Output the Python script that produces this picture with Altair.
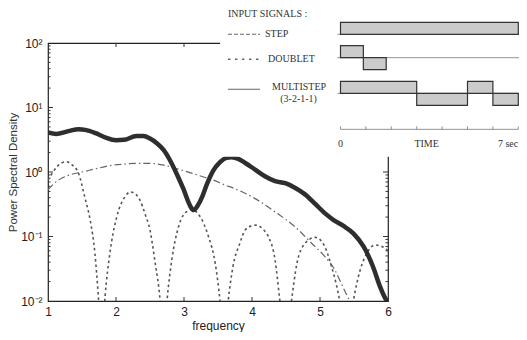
import altair as alt
import pandas as pd

# ---------------- spectra ----------------
# MULTISTEP (3-2-1-1) - thick solid curve
ms_f = [1.00, 1.12, 1.30, 1.45, 1.55, 1.70, 1.85, 2.00, 2.12, 2.30,
        2.40, 2.50, 2.60, 2.70, 2.79, 2.89, 2.99, 3.09, 3.14, 3.20,
        3.27, 3.33, 3.43, 3.53, 3.62, 3.70, 3.80, 3.90, 4.04, 4.19,
        4.34, 4.49, 4.63, 4.78, 4.93, 5.07, 5.20, 5.34, 5.49, 5.64,
        5.78, 5.88, 5.96, 6.00]
ms_p = [4.1, 3.9, 4.3, 4.6, 4.5, 4.0, 3.4, 3.1, 3.15, 3.6,
        3.6, 3.3, 2.8, 2.2, 1.55, 0.95, 0.55, 0.30, 0.257, 0.30,
        0.42, 0.62, 1.05, 1.42, 1.65, 1.70, 1.6, 1.38, 1.1, 0.86,
        0.72, 0.67, 0.57, 0.45, 0.32, 0.23, 0.18, 0.147, 0.112, 0.07,
        0.034, 0.017, 0.011, 0.0095]

# STEP - dash-dot curve
st_f = [1.00, 1.10, 1.20, 1.35, 1.50, 1.70, 1.90, 2.10, 2.30, 2.50,
        2.70, 2.90, 3.10, 3.30, 3.43, 3.60, 3.75, 4.04, 4.34, 4.63,
        4.88, 5.07, 5.22, 5.30, 5.40, 5.50]
st_p = [0.53, 0.68, 0.80, 0.92, 1.0, 1.12, 1.25, 1.32, 1.36, 1.36,
        1.28, 1.12, 0.97, 0.83, 0.75, 0.63, 0.55, 0.39, 0.24, 0.142,
        0.078, 0.049, 0.030, 0.020, 0.012, 0.0075]

# DOUBLET - dotted curve (lobes)
db_f = [1.00, 1.06, 1.13, 1.20, 1.27, 1.35, 1.45, 1.54, 1.62, 1.69, 1.74, 1.79,
        1.84, 1.91, 2.01, 2.13, 2.21, 2.28, 2.35, 2.43, 2.50, 2.57, 2.65, 2.70,
        2.75, 2.82, 2.92, 3.04, 3.12, 3.24, 3.36, 3.46, 3.53, 3.59,
        3.65, 3.72, 3.82, 3.90, 4.00, 4.07, 4.16, 4.24, 4.34, 4.41, 4.49,
        4.58, 4.66, 4.78, 4.93, 5.07, 5.17, 5.24, 5.29, 5.39,
        5.49, 5.59, 5.69, 5.81, 5.91, 6.00]
db_p = [0.75, 0.95, 1.2, 1.38, 1.44, 1.30, 0.95, 0.41, 0.18, 0.055, 0.012, 0.002,
        0.012, 0.055, 0.2, 0.41, 0.49, 0.46, 0.37, 0.22, 0.126, 0.043, 0.01, 0.002,
        0.01, 0.043, 0.142, 0.243, 0.26, 0.2, 0.1, 0.038, 0.01, 0.002,
        0.01, 0.034, 0.078, 0.126, 0.147, 0.15, 0.13, 0.1, 0.043, 0.01, 0.002,
        0.01, 0.038, 0.078, 0.097, 0.07, 0.034, 0.018, 0.01, 0.002,
        0.01, 0.03, 0.055, 0.074, 0.07, 0.06]

x_ticks = [1, 2, 3, 4, 5, 6]
y_major = [0.01, 0.1, 1, 10, 100]
y_minor = [m * 10.0 ** e for e in (-2, -1, 0, 1) for m in range(2, 10)]
y_labels = ["10⁻²", "10⁻¹", "10⁰", "10¹", "10²"]

# ---------------- inset input signals ----------------
sig_name = ["STEP", "DOUBLET", "DOUBLET", "MULTISTEP", "MULTISTEP", "MULTISTEP", "MULTISTEP"]
sig_t0 = [0, 0, 0.9, 0, 3, 5, 6]
sig_t1 = [7, 0.9, 1.8, 3, 5, 6, 7]
sig_level = [1, 1, -1, 1, -1, 1, -1]
time_ticks = [0, 1, 2, 3, 4, 5, 6, 7]

# layout of the inset (its own time / row coordinates)
ROW = {"STEP": 0.0, "DOUBLET": -1.95, "MULTISTEP": -4.92, "AXIS": -7.92}
LEG = {"t0": -4.43, "t1": -3.17, "STEP": 0.0, "DOUBLET": -2.08, "MULTISTEP": -4.58}
BG = {"t0": -4.74, "t1": 7.5, "y0": 3.0, "y1": -10.2}

W, H = 340, 258
SANS = "Liberation Sans"
SERIF = "Liberation Serif"

xs = alt.Scale(domain=[1, 6], nice=False, zero=False)
ys = alt.Scale(type="log", domain=[0.01, 100], nice=False)

x_axis = alt.Axis(values=x_ticks, format="d", title="frequency", ticks=False, tickSize=0,
                  domain=False, grid=False, labelFlush=False, labelFont=SANS, labelFontSize=12,
                  labelColor="#222", labelPadding=5, titleFont=SANS, titleFontSize=12,
                  titleFontWeight="normal", titleColor="#222", titleX=W / 2, titleY=28,
                  titleBaseline="alphabetic", titleAlign="center")
lab_expr = "[" + ",".join("'%s'" % s for s in y_labels) + "][round(log(datum.value)/LN10)+2]"
y_axis = alt.Axis(values=y_major, labelExpr=lab_expr, title="Power Spectral Density",
                  ticks=False, tickSize=0, domain=False, grid=False, labelFlush=False,
                  labelOverlap=False, labelFont=SANS, labelFontSize=12, labelColor="#222",
                  labelPadding=6, titleFont=SANS, titleFontSize=11.5, titleFontWeight="normal",
                  titleColor="#333", titleX=-35, titleY=H / 2, titleAngle=270,
                  titleBaseline="middle", titleAlign="center")

df_ms = pd.DataFrame({"f": ms_f, "psd": ms_p})
df_st = pd.DataFrame({"f": st_f, "psd": st_p})
df_db = pd.DataFrame({"f": db_f, "psd": db_p})

X = alt.X("f:Q", scale=xs, axis=x_axis)
Y = alt.Y("psd:Q", scale=ys, axis=y_axis)

step_line = alt.Chart(df_st).mark_line(clip=True, interpolate="monotone", color="#666",
                                       strokeWidth=1.2, strokeDash=[7, 3, 1.5, 3]).encode(x=X, y=Y)
doub_line = alt.Chart(df_db).mark_line(clip=True, interpolate="monotone", color="#555",
                                       strokeWidth=1.6, strokeDash=[2.5, 3]).encode(x=X, y=Y)
multi_line = alt.Chart(df_ms).mark_line(clip=True, interpolate="monotone", color="#2e2e2e",
                                        strokeWidth=4.5, strokeCap="round",
                                        strokeJoin="round").encode(x=X, y=Y)

df_ymaj = pd.DataFrame({"psd": y_major[1:-1]})
df_ymin = pd.DataFrame({"psd": y_minor})
df_xt = pd.DataFrame({"f": x_ticks[1:-1]})
tick_style = dict(color="#333", strokeWidth=1)
ticks = [
    alt.Chart(df_ymaj).mark_rule(**tick_style).encode(x=alt.value(0), x2=alt.value(5), y=Y),
    alt.Chart(df_ymin).mark_rule(**tick_style).encode(x=alt.value(0), x2=alt.value(2.5), y=Y),
    alt.Chart(df_ymaj).mark_rule(**tick_style).encode(x=alt.value(W), x2=alt.value(W - 5), y=Y),
    alt.Chart(df_ymin).mark_rule(**tick_style).encode(x=alt.value(W), x2=alt.value(W - 2.5), y=Y),
    alt.Chart(df_xt).mark_rule(**tick_style).encode(x=X, y=alt.value(H), y2=alt.value(H - 4)),
    alt.Chart(df_xt).mark_rule(**tick_style).encode(x=X, y=alt.value(0), y2=alt.value(4)),
]

main = alt.layer(*ticks, step_line, doub_line, multi_line)

# ---------------- inset ----------------
tx = alt.Scale(domain=[-5, 7.5], range=[165.5, 483], nice=False, zero=False)
ty = alt.Scale(domain=[-10.5, 3], range=[117.3, -44.7], nice=False, zero=False)


def TX(f):
    return alt.X(f, scale=tx, axis=None)


def TY(f):
    return alt.Y(f, scale=ty, axis=None)


df_bg = pd.DataFrame([BG])
bg = alt.Chart(df_bg).mark_rect(fill="white").encode(
    x=TX("t0:Q"), x2="t1:Q", y=TY("y0:Q"), y2="y1:Q")

df_sig = pd.DataFrame({"name": sig_name, "t0": sig_t0, "t1": sig_t1, "level": sig_level})
df_sig["y0"] = df_sig["name"].map(ROW)
df_sig["y1"] = df_sig["y0"] + df_sig["level"]
boxes = alt.Chart(df_sig).mark_rect(fill="#cbcbcb", stroke="#333", strokeWidth=1.2).encode(
    x=TX("t0:Q"), x2="t1:Q", y=TY("y0:Q"), y2="y1:Q")

df_base = pd.DataFrame({"name": ["STEP", "DOUBLET", "MULTISTEP"]})
df_base["y"] = df_base["name"].map(ROW)
df_base["t0"] = -0.12
df_base["t1"] = time_ticks[-1] + 0.05
baselines = alt.Chart(df_base).mark_rule(color="#777", strokeWidth=0.8).encode(
    x=TX("t0:Q"), x2="t1:Q", y=TY("y:Q"))

df_axis = pd.DataFrame({"t0": [time_ticks[0]], "t1": [time_ticks[-1]], "y": [ROW["AXIS"]]})
taxis = alt.Chart(df_axis).mark_rule(color="#777", strokeWidth=0.8).encode(
    x=TX("t0:Q"), x2="t1:Q", y=TY("y:Q"))
df_tt = pd.DataFrame({"t": time_ticks})
df_tt["y0"] = ROW["AXIS"]
df_tt["y1"] = ROW["AXIS"] + 0.25
tticks = alt.Chart(df_tt).mark_rule(color="#777", strokeWidth=0.8).encode(
    x=TX("t:Q"), y=TY("y0:Q"), y2="y1:Q")


def leg_line(name, **style):
    d = pd.DataFrame({"t0": [LEG["t0"]], "t1": [LEG["t1"]], "y": [LEG[name]]})
    return alt.Chart(d).mark_rule(**style).encode(x=TX("t0:Q"), x2="t1:Q", y=TY("y:Q"))


legend = [
    leg_line("STEP", color="#666", strokeWidth=1.1, strokeDash=[4, 2]),
    leg_line("DOUBLET", color="#666", strokeWidth=1.3, strokeDash=[2.5, 4.5]),
    leg_line("MULTISTEP", color="#666", strokeWidth=1.0),
]

txt_left = pd.DataFrame({
    "label": ["INPUT SIGNALS :", "STEP", "DOUBLET", "7 sec"],
    "t": [-4.43, -2.97, -2.85, 6.2],
    "y": [1.69, 0.0, -2.08, -9.14],
})
txt_center = pd.DataFrame({
    "label": ["MULTISTEP", "(3-2-1-1)", "0", "TIME"],
    "t": [-1.63, -1.65, 0.0, 3.39],
    "y": [-4.42, -5.42, -9.14, -9.14],
})
tl = alt.Chart(txt_left).mark_text(align="left", baseline="middle", font=SERIF, fontSize=10,
                                   color="#333").encode(x=TX("t:Q"), y=TY("y:Q"), text="label:N")
tc = alt.Chart(txt_center).mark_text(align="center", baseline="middle", font=SERIF, fontSize=10,
                                     color="#333").encode(x=TX("t:Q"), y=TY("y:Q"), text="label:N")

inset = alt.layer(bg, baselines, boxes, taxis, tticks, *legend, tl, tc)

chart = alt.layer(main, inset).resolve_scale(x="independent", y="independent").properties(
    width=W, height=H,
    autosize=alt.AutoSizeParams(type="none"),
    padding={"left": 40, "top": 35, "right": 131, "bottom": 31},
    background="white",
).configure_view(stroke="#222", strokeWidth=1.2)

chart.save("out.html", embed_options={"renderer": "svg", "actions": False})
